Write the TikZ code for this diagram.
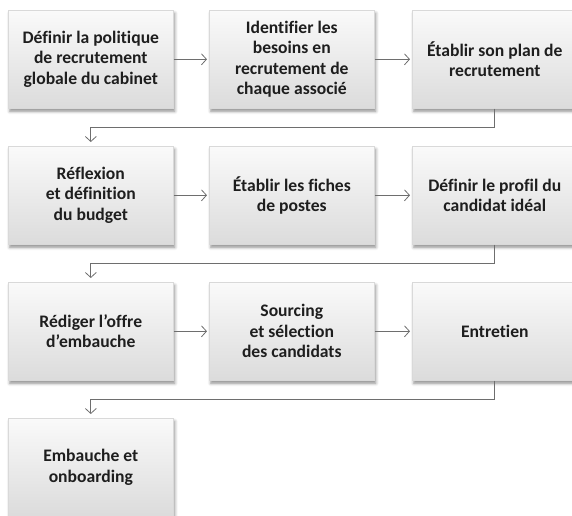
\documentclass[tikz,border=0pt]{standalone}
\usepackage{fontspec}
\setmainfont{Carlito}[Ligatures=CommonOff]
\usetikzlibrary{arrows.meta,shadows.blur}
\definecolor{txt}{HTML}{1E1E1E}
\definecolor{edge}{HTML}{D9D9D9}
\definecolor{conn}{HTML}{6E6E6E}
\tikzset{
  stepbox/.style={draw=edge, line width=0.6pt, top color=white!98!black, bottom color=white!86!black,
    minimum width=165pt, minimum height=98pt, inner sep=0pt, anchor=north west,
    align=center, text=txt, font=\fontsize{17.6}{20.5}\selectfont\bfseries,
    blur shadow={shadow xshift=1.5pt, shadow yshift=-3pt, shadow blur radius=3pt, shadow opacity=45}},
  conn/.style={draw=conn, line width=0.8pt, -{Straight Barb[length=5pt,width=11pt,line width=0.8pt]}}
}
\begin{document}
\begin{tikzpicture}[x=1pt,y=-1pt]
\useasboundingbox (0,0) rectangle (572,515);
\node[stepbox] (b1) at (8,10) {Définir la politique\\de recrutement\\globale du cabinet};
\node[stepbox] (b2) at (209,10) {Identifier les\\besoins en\\recrutement de\\chaque associé};
\node[stepbox] (b3) at (412,10) {Établir son plan de\\recrutement};
\node[stepbox] (b4) at (8,146) {Réflexion\\et définition\\du budget};
\node[stepbox] (b5) at (209,146) {Établir les fiches\\de postes};
\node[stepbox] (b6) at (412,146) {Définir le profil du\\candidat idéal};
\node[stepbox] (b7) at (8,282) {Rédiger l’offre\\d’embauche};
\node[stepbox] (b8) at (209,282) {Sourcing\\et sélection\\des candidats};
\node[stepbox] (b9) at (412,282) {Entretien};
\node[stepbox] (b10) at (8,418) {Embauche et\\onboarding};
\foreach \a/\b in {b1/b2,b2/b3,b4/b5,b5/b6,b7/b8,b8/b9}
  \draw[conn, shorten >=2pt] (\a.east) -- (\b.west);
\foreach \a/\b in {b3/b4,b6/b7,b9/b10}
  \draw[conn, shorten >=4pt] (\a.south) -- ++(0,19) -| (\b.north);
\end{tikzpicture}
\end{document}
